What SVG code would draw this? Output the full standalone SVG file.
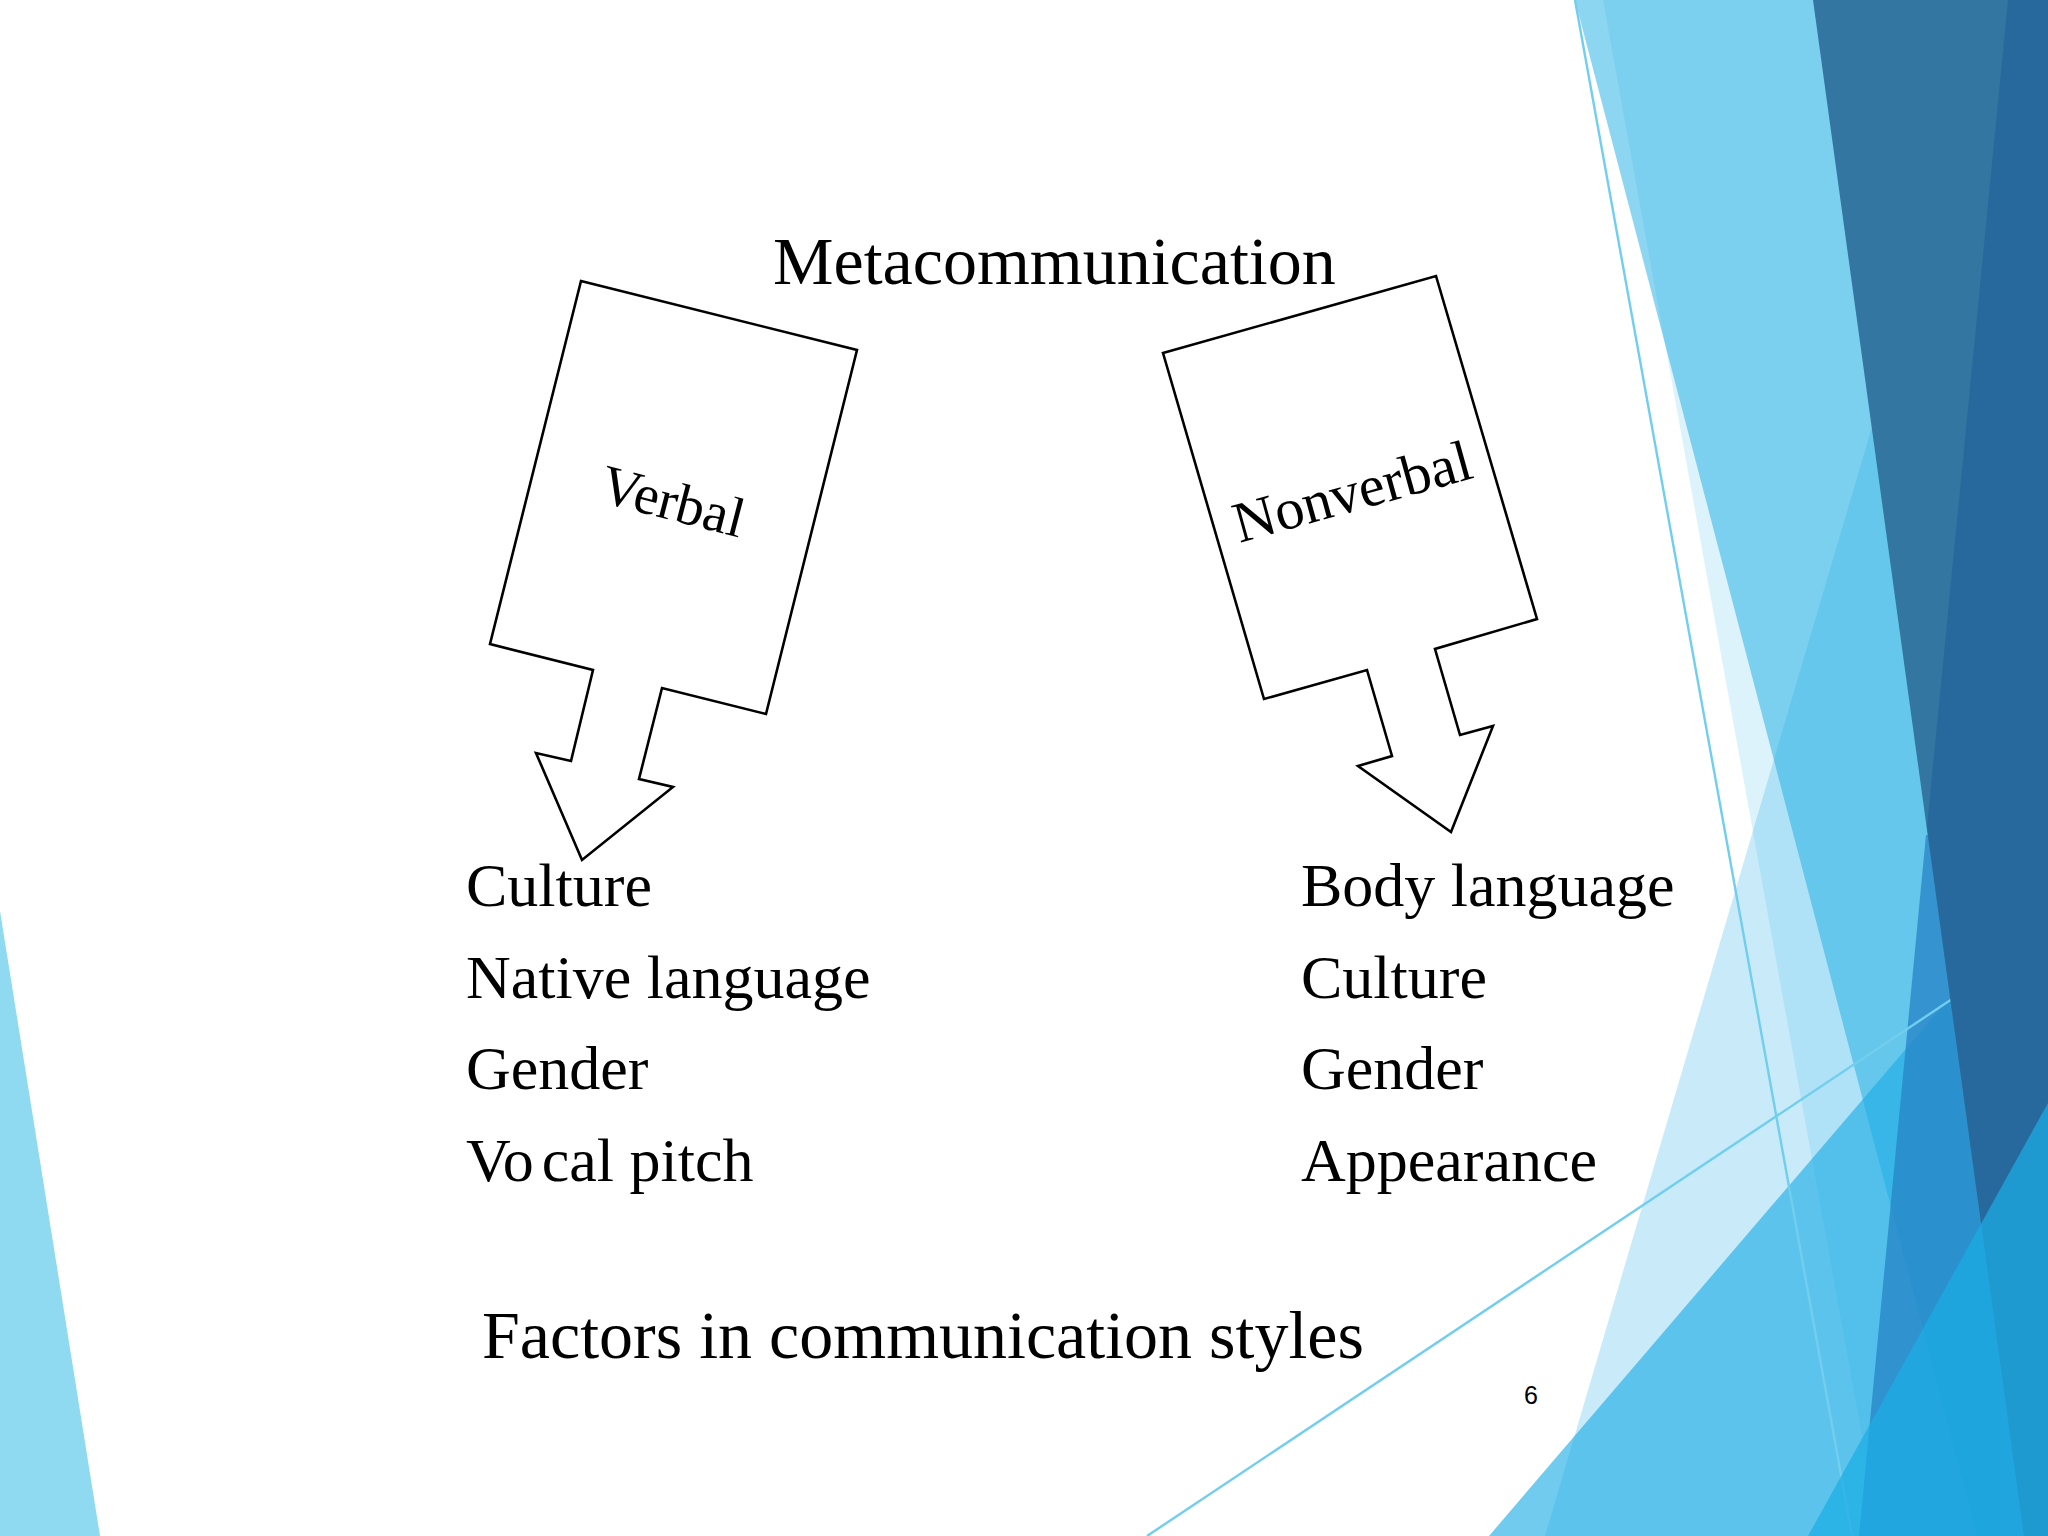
<svg xmlns="http://www.w3.org/2000/svg" width="2048" height="1536" viewBox="0 0 2048 1536">
<defs>
<style>
.t{font-family:"Liberation Serif","Times New Roman",serif;fill:#000}
.big{font-size:68px}
.item{font-size:62px}
.arrow{fill:#fff;stroke:#000;stroke-width:2.6;stroke-linejoin:miter}
.deco{fill:#1CADE4}
.thin{fill:none;stroke:#72CEEE;stroke-width:2.4}
</style>
</defs>
<rect width="2048" height="1536" fill="#fff"/>
<g id="background">
  <polygon points="0,911 100,1536 0,1536" fill="#8FD9F1"/>
  <polygon class="deco" fill-opacity="0.5" points="1575,0 2048,0 2048,1536 1977,1536"/>
  <polygon class="deco" fill-opacity="0.24" points="1545,1536 1872,427 2000,427 2000,1536"/>
  <polygon class="deco" fill-opacity="0.15" points="1603,0 2048,0 2048,1536 1880,1536"/>
  <polygon class="deco" fill-opacity="0.63" points="1489,1536 2048,883 2048,1536"/>
  <polygon fill="#2683C6" fill-opacity="0.76" points="1926,835 2048,835 2048,1536 1859,1536"/>
  <line class="thin" x1="1575" y1="0" x2="1852" y2="1536"/>
  <line class="thin" x1="1147" y1="1536" x2="2048" y2="935"/>
  <polygon fill="#3276A1" points="1813,0 2048,0 2048,1536 2024,1536"/>
  <polygon fill="#28699D" points="2008,0 2048,0 2048,1536 2024,1536 1927,827"/>
  <polygon class="deco" fill-opacity="0.72" points="1808,1536 2048,1103 2048,1536"/>
</g>
<g id="title">
  <text class="t big" x="773" y="284">Metacommunication</text>
</g>
<g id="verbal">
  <polygon class="arrow" points="581,281 857,350 766,714 662,688 639,779 673,787 582,860 536,753 571,761 593,670 490,644"/>
  <text class="t" font-size="56" text-anchor="middle" transform="translate(673,501) rotate(14.5)" y="19">Verbal</text>
</g>
<g id="nonverbal">
  <polygon class="arrow" points="1163,353 1436,276 1537,619 1435,649 1460,735 1493,726 1451,832 1358,766 1392,756 1367,670 1264,699"/>
  <text class="t" font-size="58" text-anchor="middle" transform="translate(1352,491) rotate(-15.5)" y="20">Nonverbal</text>
</g>
<g id="verbal-factors">
  <text class="t item" x="466" y="906">Culture</text>
  <text class="t item" x="466" y="998">Native language</text>
  <text class="t item" x="466" y="1089">Gender</text>
  <text class="t item" x="466" y="1181">Vo<tspan dx="8">cal pitch</tspan></text>
</g>
<g id="nonverbal-factors">
  <text class="t item" x="1301" y="906">Body language</text>
  <text class="t item" x="1301" y="998">Culture</text>
  <text class="t item" x="1301" y="1089">Gender</text>
  <text class="t item" x="1301" y="1181">Appearance</text>
</g>
<g id="caption">
  <text class="t big" x="482" y="1358">Factors in communication styles</text>
</g>
<g id="page-number">
  <text x="1531" y="1404" font-family="Liberation Sans, Arial, sans-serif" font-size="25" text-anchor="middle" fill="#000">6</text>
</g>
<g id="connectors"/>
</svg>
